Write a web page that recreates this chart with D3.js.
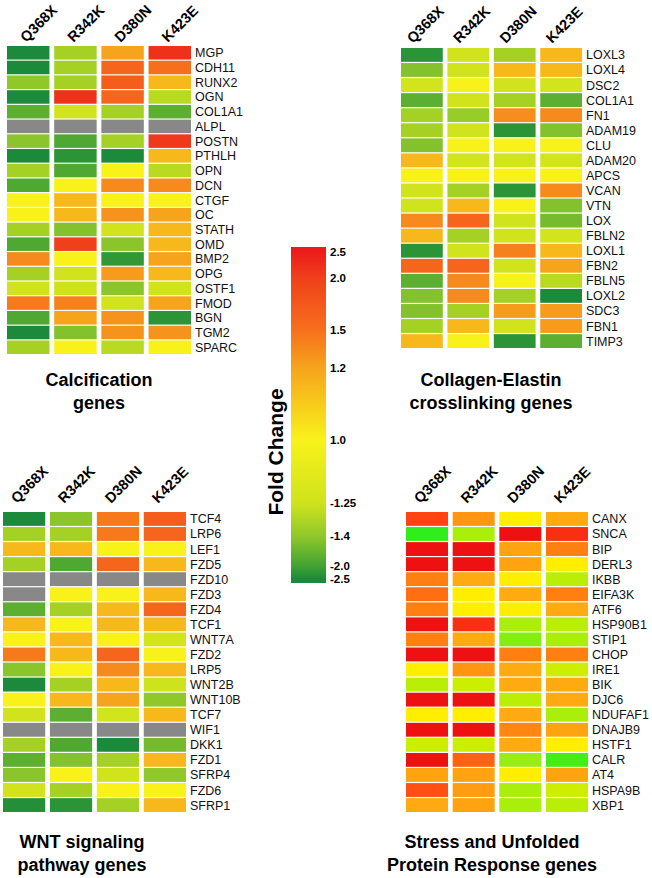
<!DOCTYPE html>
<html>
<head>
<meta charset="utf-8">
<script src="https://cdn.jsdelivr.net/npm/d3@7"></script>
<style>
body { margin: 0; background: #fff; }
svg { display: block; font-family: "Liberation Sans", Arial, sans-serif; }
</style>
</head>
<body>
<svg id="chart" width="652" height="878"></svg>
<script>
// mutants (columns) shared by every panel
const mutants = ["Q368X", "R342K", "D380N", "K423E"];

// fold change legend
const foldTicks = [2.5, 2.0, 1.5, 1.2, 1.0, -1.25, -1.4, -2.0, -2.5];
const foldTickLabels = ["2.5", "2.0", "1.5", "1.2", "1.0", "-1.25", "-1.4", "-2.0", "-2.5"];
const mainPalette = ["#ec1c1a", "#f0401a", "#f6701c", "#f6a41c", "#f8f21a", "#cfe31c", "#90c82a", "#42a233", "#1b8a3a"];
const stressPalette = ["#ee1111", "#ff4411", "#ff8011", "#ffaa11", "#ffee00", "#ccee00", "#99ee11", "#44ee11", "#22ee22"];

// Calcification
const calcTitle = ["Calcification", "genes"];
const calcGenes = ["MGP", "CDH11", "RUNX2", "OGN", "COL1A1", "ALPL", "POSTN", "PTHLH", "OPN", "DCN", "CTGF",
  "OC", "STATH", "OMD", "BMP2", "OPG", "OSTF1", "FMOD", "BGN", "TGM2", "SPARC"];
const calcValues = [
  [-2.5, -1.35, 1.2, 2.2],
  [-2.5, -1.35, 1.6, 1.5],
  [-1.4, -1.35, 1.7, 1.15],
  [-2.5, 2.2, 1.6, -1.3],
  [-1.8, -1.2, -1.35, -1.8],
  [null, null, null, null],
  [-1.45, -1.9, -1.35, 2.1],
  [-2.5, -2.3, -2.5, 1.15],
  [-1.35, -1.9, 1.0, -1.3],
  [-1.9, 1.0, 1.35, 1.35],
  [1.0, 1.15, 1.0, 1.0],
  [1.0, 1.15, 1.3, 1.2],
  [-1.35, -1.5, -1.2, 1.15],
  [-1.9, 2.0, -1.45, 1.15],
  [1.35, 1.0, -2.2, 1.2],
  [-1.35, -1.2, 1.25, 1.15],
  [-1.2, -1.25, -1.45, -1.2],
  [1.45, 1.4, -1.2, 1.2],
  [-1.9, 1.2, 1.3, -2.3],
  [-2.5, -1.5, 1.3, 1.3],
  [-1.35, 1.0, -1.3, 1.0]
];

// Collagen-Elastin crosslinking
const collTitle = ["Collagen-Elastin", "crosslinking genes"];
const collGenes = ["LOXL3", "LOXL4", "DSC2", "COL1A1", "FN1", "ADAM19", "CLU", "ADAM20", "APCS", "VCAN",
  "VTN", "LOX", "FBLN2", "LOXL1", "FBN2", "FBLN5", "LOXL2", "SDC3", "FBN1", "TIMP3"];
const collValues = [
  [-2.3, -1.2, -1.35, 1.15],
  [-1.5, -1.2, 1.15, 1.15],
  [-1.15, 1.0, -1.2, -1.1],
  [-1.8, -1.2, -1.35, -1.8],
  [-1.35, -1.38, 1.33, 1.35],
  [-1.35, -1.2, -2.3, -1.5],
  [-1.5, 1.0, 1.0, 1.0],
  [1.15, -1.2, -1.2, -1.1],
  [1.0, 1.0, 1.0, 1.0],
  [-1.2, -1.35, -2.3, 1.35],
  [-1.2, 1.15, 1.0, -1.5],
  [1.35, 1.6, -1.2, -1.6],
  [1.15, -1.35, -1.2, -1.15],
  [-2.3, -1.2, 1.4, 1.15],
  [1.6, 1.6, -1.2, 1.2],
  [-1.8, 1.35, 1.0, -1.3],
  [-1.5, 1.35, -1.35, -2.5],
  [-1.5, -1.35, 1.25, 1.25],
  [-1.35, 1.15, -1.2, 1.25],
  [1.15, 1.0, -2.3, -1.8]
];

// WNT signaling
const wntTitle = ["WNT signaling", "pathway genes"];
const wntGenes = ["TCF4", "LRP6", "LEF1", "FZD5", "FZD10", "FZD3", "FZD4", "TCF1", "WNT7A", "FZD2",
  "LRP5", "WNT2B", "WNT10B", "TCF7", "WIF1", "DKK1", "FZD1", "SFRP4", "FZD6", "SFRP1"];
const wntValues = [
  [-2.5, -1.45, 1.45, 1.7],
  [-1.35, -1.35, 1.45, 1.6],
  [1.15, 1.15, 1.0, 1.0],
  [-1.35, -1.9, 1.6, 1.15],
  [null, null, null, null],
  [null, 1.0, 1.0, 1.15],
  [-1.8, -1.35, 1.15, 1.6],
  [1.15, 1.0, 1.15, 1.15],
  [1.0, 1.15, 1.0, -1.1],
  [1.45, 1.15, 1.6, 1.0],
  [-1.45, 1.0, 1.35, 1.15],
  [-2.5, -1.35, 1.15, -1.25],
  [1.0, 1.15, 1.2, -1.4],
  [-1.2, -1.8, -1.15, 1.15],
  [null, null, null, null],
  [-1.35, -1.9, -2.5, -1.6],
  [-1.8, -1.5, -1.35, 1.15],
  [-1.45, 1.0, -1.2, -1.4],
  [-1.2, -1.35, 1.0, 1.0],
  [-2.4, -2.3, -1.35, 1.15]
];

// Stress and Unfolded Protein Response
const stressTitle = ["Stress and Unfolded", "Protein Response genes"];
const stressGenes = ["CANX", "SNCA", "BIP", "DERL3", "IKBB", "EIFA3K", "ATF6", "HSP90B1", "STIP1", "CHOP",
  "IRE1", "BIK", "DJC6", "NDUFAF1", "DNAJB9", "HSTF1", "CALR", "AT4", "HSPA9B", "XBP1"];
const stressValues = [
  [2.0, 1.35, 1.0, 1.2],
  [-2.3, -1.35, 2.5, 2.2],
  [2.5, 2.5, 1.25, 1.5],
  [2.5, 2.5, 1.25, 1.0],
  [1.5, 1.2, 1.0, -1.3],
  [1.65, 1.0, 1.2, 1.5],
  [1.5, 1.0, 1.0, 1.2],
  [2.5, 2.2, -1.35, -1.3],
  [1.5, 1.2, -1.55, -1.35],
  [2.5, 2.5, 1.5, 1.5],
  [1.0, 1.35, 1.2, -1.2],
  [-1.3, -1.25, 1.2, 1.2],
  [2.5, 2.5, -1.3, 1.2],
  [1.0, 1.0, 1.2, -1.35],
  [2.5, 2.5, 1.45, 1.25],
  [-1.25, -1.25, 1.2, 1.0],
  [2.5, 1.75, -1.4, -2.0],
  [1.25, 1.25, 1.0, 1.25],
  [1.9, 1.3, -1.35, -1.2],
  [1.2, 1.25, -1.35, -1.3]
];

const svg = d3.select("#chart");

const mainColor = d3.scaleLinear().domain(foldTicks).range(mainPalette).clamp(true);
const stressColor = d3.scaleLinear().domain(foldTicks).range(stressPalette).clamp(true);

const panels = [
  {genes: calcGenes, values: calcValues, title: calcTitle, color: mainColor,
   x: [7, 191], y: [46, 354], headDx: -2, headY: 43, titleX: 99, titleY: 386},
  {genes: collGenes, values: collValues, title: collTitle, color: mainColor,
   x: [401, 582], y: [48, 348], headDx: -9, headY: 44, titleX: 491, titleY: 386},
  {genes: wntGenes, values: wntValues, title: wntTitle, color: mainColor,
   x: [3, 186], y: [512, 812], headDx: -7, headY: 504, titleX: 82, titleY: 848},
  {genes: stressGenes, values: stressValues, title: stressTitle, color: stressColor,
   x: [406, 588], y: [512, 812], headDx: -7, headY: 504, titleX: 492, titleY: 848}
];

function drawPanel(p) {
  const g = svg.append("g");
  const xScale = d3.scaleBand().domain(mutants).range(p.x).paddingInner(0.1);
  const yScale = d3.scaleBand().domain(p.genes).range(p.y).paddingInner(0.08);

  const cells = [];
  p.genes.forEach((gene, i) => {
    mutants.forEach((m, j) => cells.push({gene: gene, mutant: m, v: p.values[i][j]}));
  });

  g.selectAll("rect")
    .data(cells)
    .join("rect")
    .attr("x", d => xScale(d.mutant))
    .attr("y", d => yScale(d.gene))
    .attr("width", xScale.bandwidth())
    .attr("height", yScale.bandwidth())
    .attr("fill", d => d.v === null ? "#888888" : p.color(d.v));

  // gene names
  g.selectAll(".gene")
    .data(p.genes)
    .join("text")
    .attr("class", "gene")
    .attr("x", p.x[1] + 4)
    .attr("y", d => yScale(d) + yScale.bandwidth() / 2)
    .attr("dy", "0.36em")
    .style("font-size", "12.5px")
    .style("fill", "#111")
    .text(d => d);

  // rotated column headers
  g.selectAll(".head")
    .data(mutants)
    .join("text")
    .attr("class", "head")
    .attr("transform", d => "translate(" + (xScale(d) + xScale.bandwidth() / 2 + p.headDx) + "," + p.headY + ") rotate(-45)")
    .style("font-size", "14.5px")
    .style("font-weight", "bold")
    .text(d => d);

  g.selectAll(".title")
    .data(p.title)
    .join("text")
    .attr("class", "title")
    .attr("x", p.titleX)
    .attr("y", (d, i) => p.titleY + i * 23)
    .attr("text-anchor", "middle")
    .style("font-size", "18px")
    .style("font-weight", "bold")
    .text(d => d);
}

panels.forEach(drawPanel);

// legend
const legTop = 247, legBottom = 583, legX = 291, legW = 35;
const legendY = d3.scaleLinear()
  .domain(foldTicks)
  .range([252, 278, 330, 368, 440, 503, 536, 566, 579]);

const defs = svg.append("defs");
const grad = defs.append("linearGradient")
  .attr("id", "foldGrad")
  .attr("x1", 0).attr("y1", 0).attr("x2", 0).attr("y2", 1);
const stops = [{o: 0, c: mainColor(2.5)}]
  .concat(foldTicks.map(v => ({o: (legendY(v) - legTop) / (legBottom - legTop), c: mainColor(v)})))
  .concat([{o: 1, c: mainColor(-2.5)}]);
grad.selectAll("stop")
  .data(stops)
  .join("stop")
  .attr("offset", d => d.o)
  .attr("stop-color", d => d.c);

svg.append("rect")
  .attr("x", legX)
  .attr("y", legTop)
  .attr("width", legW)
  .attr("height", legBottom - legTop)
  .attr("fill", "url(#foldGrad)");

svg.selectAll(".legtick")
  .data(foldTicks)
  .join("text")
  .attr("class", "legtick")
  .attr("x", legX + legW + 4)
  .attr("y", d => legendY(d))
  .attr("dy", "0.36em")
  .style("font-size", "11.5px")
  .style("font-weight", "bold")
  .text((d, i) => foldTickLabels[i]);

svg.append("text")
  .attr("transform", "translate(283,452) rotate(-90)")
  .attr("text-anchor", "middle")
  .style("font-size", "21px")
  .style("font-weight", "bold")
  .text("Fold Change");
</script>
</body>
</html>
